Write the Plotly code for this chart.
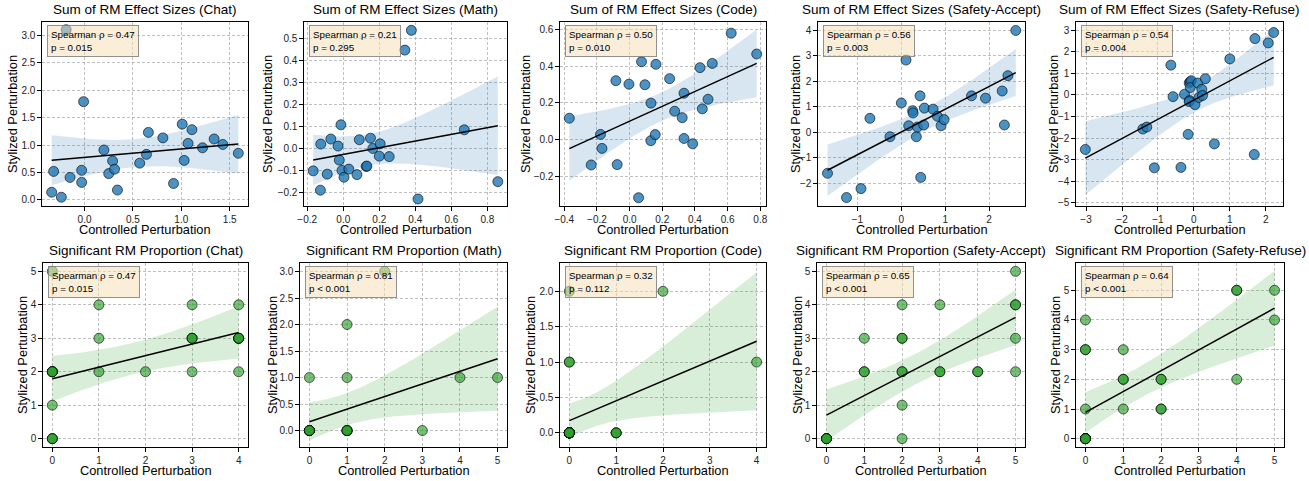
import numpy as np
import plotly.graph_objects as go

W, H = 1309, 481

titles = [
    "Sum of RM Effect Sizes (Chat)", "Sum of RM Effect Sizes (Math)", "Sum of RM Effect Sizes (Code)",
    "Sum of RM Effect Sizes (Safety-Accept)", "Sum of RM Effect Sizes (Safety-Refuse)",
    "Significant RM Proportion (Chat)", "Significant RM Proportion (Math)", "Significant RM Proportion (Code)",
    "Significant RM Proportion (Safety-Accept)", "Significant RM Proportion (Safety-Refuse)",
]
rho_text = ["0.47", "0.21", "0.50", "0.56", "0.54", "0.47", "0.81", "0.32", "0.65", "0.64"]
p_text = ["p = 0.015", "p = 0.295", "p = 0.010", "p = 0.003", "p = 0.004",
          "p = 0.015", "p < 0.001", "p = 0.112", "p < 0.001", "p < 0.001"]
x_label = "Controlled Perturbation"
y_label = "Stylized Perturbation"

# ---- Sum of RM effect sizes ----
chat_eff_x = [-0.19, -0.01, -0.32, -0.34, -0.24, -0.15, -0.03, -0.03, 0.20, 0.25, 0.29, 0.31, 0.34,
              0.57, 0.64, 0.66, 0.81, 0.92, 1.01, 1.03, 1.07, 1.11, 1.22, 1.34, 1.43, 1.59]
chat_eff_y = [3.10, 1.79, 0.52, 0.14, 0.05, 0.41, 0.54, 0.32, 0.91, 0.48, 0.71, 0.56, 0.18,
              0.67, 0.83, 1.23, 1.13, 0.30, 1.38, 0.72, 1.03, 1.28, 0.95, 1.11, 1.01, 0.85]

math_eff_x = [0.378, 0.342, 0.672, -0.167, -0.127, -0.125, -0.089, -0.069, -0.029, -0.022, -0.013,
              -0.007, 0.004, 0.031, 0.076, 0.089, 0.127, 0.131, 0.151, 0.164, 0.205, 0.200, 0.255,
              0.415, 0.858]
math_eff_y = [0.538, 0.448, 0.085, -0.102, -0.190, 0.020, -0.117, 0.043, 0.011, -0.053, 0.108,
              -0.100, -0.131, -0.094, -0.119, 0.040, -0.082, -0.080, 0.047, 0.000, 0.021, -0.035, -0.037,
              -0.230, -0.151]

code_eff_x = [-0.369, -0.235, -0.178, -0.169, -0.084, -0.076, -0.004, 0.055, 0.073, 0.094, 0.131,
              0.130, 0.157, 0.161, 0.245, 0.276, 0.322, 0.333, 0.333, 0.386, 0.431, 0.445, 0.480,
              0.506, 0.622, 0.778]
code_eff_y = [0.117, -0.137, 0.029, -0.047, 0.321, -0.135, 0.302, -0.315, 0.424, 0.299, 0.199,
              -0.005, 0.028, 0.410, 0.332, 0.155, 0.120, 0.253, 0.007, -0.022, 0.392, 0.168, 0.220,
              0.415, 0.579, 0.466]

sacc_eff_x = [-1.683, -1.250, -0.920, -0.716, -0.259, 0.000, 0.107, 0.168, 0.259, 0.267, 0.343,
              0.366, 0.427, 0.442, 0.526, 0.510, 0.724, 0.823, 0.906, 0.975, 1.600, 1.920, 2.300,
              2.350, 2.430, 2.610]
sacc_eff_y = [-1.60, -2.55, -2.20, 0.55, -0.17, 1.15, 2.83, 0.26, 0.85, 0.76, -0.17,
              0.21, 1.43, -1.76, 0.95, 0.29, 0.91, 0.63, 0.26, 0.50, 1.43, 1.34, 1.62,
              0.29, 2.22, 3.99]

sref_eff_x = [-3.02, -1.42, -1.31, -1.10, -0.64, -0.58, -0.36, -0.26, -0.16, -0.13, -0.10, -0.07,
              -0.10, -0.12, -0.13, 0.03, 0.11, 0.14, 0.22, 0.24, 0.32, 0.57, 1.00, 1.70, 1.68,
              2.07, 2.22]
sref_eff_y = [-2.53, -1.58, -1.49, -3.38, 1.38, -0.08, -3.36, 0.03, -1.83, 0.55, 0.61, 0.66,
              0.34, -0.26, -0.31, -0.45, 0.55, -0.12, 0.26, -0.03, 0.75, -2.27, 1.67, 2.61, -2.76,
              2.41, 2.89]

# ---- Significant RM proportion ----
chat_prop_x = [0, 0, 0, 0, 0, 0, 0, 0, 0, 0, 1, 1, 1, 2, 3, 3, 3, 3, 3, 4, 4, 4, 4, 4, 4]
chat_prop_y = [0, 0, 0, 1, 2, 2, 2, 2, 2, 5, 2, 3, 4, 2, 2, 3, 3, 3, 4, 2, 3, 3, 3, 3, 4]

math_prop_x = [0, 0, 0, 0, 0, 0, 0, 0, 0, 0, 0, 0, 0, 1, 1, 1, 1, 1, 1, 1, 2, 3, 4, 5]
math_prop_y = [0, 0, 0, 0, 0, 0, 0, 0, 0, 0, 0, 0, 1, 0, 0, 0, 0, 0, 1, 2, 3, 0, 1, 1]

code_prop_x = [0, 0, 0, 0, 0, 0, 0, 0, 0, 0, 0, 0, 0, 0, 0, 0, 0, 0, 0, 0, 0, 1, 1, 1, 2, 4]
code_prop_y = [0, 0, 0, 0, 0, 0, 0, 0, 0, 0, 0, 0, 0, 0, 0, 0, 0, 0, 1, 1, 2, 0, 0, 0, 2, 1]

sacc_prop_x = [0, 0, 0, 0, 0, 1, 1, 1, 2, 2, 2, 2, 2, 2, 2, 3, 3, 3, 4, 4, 5, 5, 5, 5, 5]
sacc_prop_y = [0, 0, 0, 0, 0, 2, 2, 3, 0, 1, 2, 2, 3, 3, 4, 2, 2, 4, 2, 2, 2, 3, 4, 4, 5]

sref_prop_x = [0, 0, 0, 0, 0, 0, 0, 0, 0, 0, 0, 0, 1, 1, 1, 1, 2, 2, 2, 2, 4, 4, 4, 5, 5]
sref_prop_y = [0, 0, 0, 0, 0, 0, 0, 0, 1, 3, 3, 4, 1, 2, 2, 3, 1, 1, 2, 2, 2, 5, 5, 4, 5]

panels_x = [chat_eff_x, math_eff_x, code_eff_x, sacc_eff_x, sref_eff_x,
            chat_prop_x, math_prop_x, code_prop_x, sacc_prop_x, sref_prop_x]
panels_y = [chat_eff_y, math_eff_y, code_eff_y, sacc_eff_y, sref_eff_y,
            chat_prop_y, math_prop_y, code_prop_y, sacc_prop_y, sref_prop_y]

# ---- layout geometry (pixels) ----
x_px = [(42, 248), (304, 507), (560, 766), (818, 1025), (1076, 1283),
        (43, 248), (300, 507), (560, 766), (817, 1025), (1076, 1284)]
y_px = [(22, 206)] * 5 + [(263, 447)] * 5
ytitle_off = [30, 37, 35, 23, 23, 21, 28, 30, 20, 21]
x_ranges = [(-0.44, 1.69), (-0.218, 0.909), (-0.426, 0.835), (-1.9, 2.82), (-3.28, 2.48),
            (-0.2, 4.2), (-0.25, 5.25), (-0.2, 4.2), (-0.25, 5.25), (-0.25, 5.25)]
y_ranges = [(-0.11, 3.24), (-0.262, 0.576), (-0.36, 0.64), (-2.88, 4.32), (-5.15, 3.38),
            (-0.25, 5.25), (-0.31, 3.16), (-0.2, 2.4), (-0.25, 5.25), (-0.28, 5.92)]
x_dtick = [0.5, 0.2, 0.2, 1, 1, 1, 1, 1, 1, 1]
y_dtick = [0.5, 0.1, 0.2, 1, 1, 1, 0.5, 0.5, 1, 1]
x_fmt = [".1f", ".1f", ".1f", "d", "d", "d", "d", "d", "d", "d"]
y_fmt = [".1f", ".1f", ".1f", "d", "d", "d", ".1f", ".1f", "d", "d"]

FONT = "Arial, Liberation Sans, DejaVu Sans, sans-serif"

fig = go.Figure()
layout = dict(
    template="none",
    width=W, height=H, margin=dict(l=0, r=0, t=0, b=0, autoexpand=False),
    paper_bgcolor="white", plot_bgcolor="white", showlegend=False,
    font=dict(family=FONT, color="black"),
)
annotations = []


def tcrit(df):
    return 1.96 + 2.37 / df + 2.8 / df ** 2


for i in range(10):
    k = i + 1
    xa = "x" if k == 1 else f"x{k}"
    ya = "y" if k == 1 else f"y{k}"
    xk = "xaxis" if k == 1 else f"xaxis{k}"
    yk = "yaxis" if k == 1 else f"yaxis{k}"
    top = i < 5
    x = np.array(panels_x[i], dtype=float)
    y = np.array(panels_y[i], dtype=float)
    n = len(x)
    slope, intercept = np.polyfit(x, y, 1)
    grid = np.linspace(x.min(), x.max(), 100)
    pred = intercept + slope * grid
    resid = y - (intercept + slope * x)
    s = np.sqrt(np.sum(resid ** 2) / (n - 2))
    sxx = np.sum((x - x.mean()) ** 2)
    half = tcrit(n - 2) * s * np.sqrt(1.0 / n + (grid - x.mean()) ** 2 / sxx)

    band_col = "rgba(31,119,180,0.18)" if top else "rgba(44,160,44,0.18)"
    pt_col = "rgba(31,119,180,0.8)" if top else "rgba(44,160,44,0.65)"

    fig.add_trace(go.Scatter(
        x=np.concatenate([grid, grid[::-1]]), y=np.concatenate([pred + half, (pred - half)[::-1]]),
        fill="toself", fillcolor=band_col, line=dict(width=0), mode="lines",
        xaxis=xa, yaxis=ya, hoverinfo="skip"))
    fig.add_trace(go.Scatter(
        x=x, y=y, mode="markers", xaxis=xa, yaxis=ya,
        marker=dict(size=10, color=pt_col, line=dict(color="rgba(0,0,0,0.75)", width=0.8))))
    fig.add_trace(go.Scatter(
        x=grid, y=pred, mode="lines", line=dict(color="black", width=1.5),
        xaxis=xa, yaxis=ya))

    x0, x1 = x_px[i]
    yt, yb = y_px[i]
    common = dict(
        showline=True, linecolor="black", linewidth=1.2, mirror=True,
        ticks="outside", ticklen=3.5, tickwidth=0.8, tickcolor="black",
        showgrid=True, gridcolor="rgba(150,150,150,0.6)", gridwidth=0.7, griddash="3px,2px",
        zeroline=False, automargin=False, tickfont=dict(size=10, family=FONT, color="#222"),
    )
    layout[xk] = dict(common, domain=[x0 / W, x1 / W], range=list(x_ranges[i]),
                      dtick=x_dtick[i], tick0=0, tickformat=x_fmt[i], anchor=ya)
    layout[yk] = dict(common, domain=[1 - yb / H, 1 - yt / H], range=list(y_ranges[i]),
                      dtick=y_dtick[i], tick0=0, tickformat=y_fmt[i], anchor=xa)

    annotations.append(dict(
        text=titles[i], xref=f"{xa} domain", yref=f"{ya} domain", x=0.5, y=1,
        xanchor="center", yanchor="bottom", yshift=3, showarrow=False,
        font=dict(size=13.5, family=FONT, color="black")))
    annotations.append(dict(
        text=x_label, xref=f"{xa} domain", yref=f"{ya} domain", x=0.5, y=0,
        xanchor="center", yanchor="middle", yshift=-23, showarrow=False,
        font=dict(size=12.8, family=FONT, color="black")))
    annotations.append(dict(
        text=y_label, xref=f"{xa} domain", yref=f"{ya} domain", x=0, y=0.5,
        xanchor="center", yanchor="middle", xshift=-ytitle_off[i], textangle=-90, showarrow=False,
        font=dict(size=12.8, family=FONT, color="black")))
    annotations.append(dict(
        text=f"Spearman ρ = {rho_text[i]}<br>{p_text[i]}", xref=f"{xa} domain", yref=f"{ya} domain",
        x=0.025, y=0.984, xanchor="left", yanchor="top", align="left", showarrow=False,
        bgcolor="rgba(245,222,179,0.5)", bordercolor="rgba(120,120,120,0.8)", borderwidth=1,
        borderpad=3, font=dict(size=9.8, family=FONT, color="black")))

layout["annotations"] = annotations
fig.update_layout(**layout)
fig.write_html("out.html", config={"displayModeBar": False},
               post_script="document.body.style.margin='0';document.body.style.overflow='hidden';")
